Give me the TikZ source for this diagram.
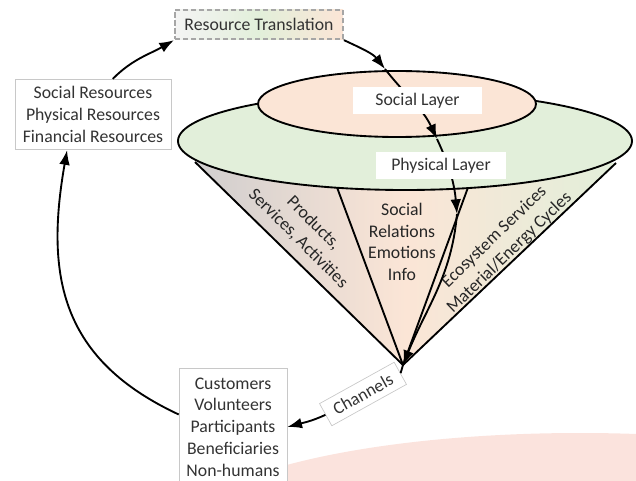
\documentclass[tikz,border=0pt]{standalone}
\usepackage{fontspec}
\setmainfont{Carlito}
\usetikzlibrary{arrows.meta}
\definecolor{layergreen}{HTML}{E2EFDA}
\definecolor{layerpeach}{HTML}{FBE5D6}
\definecolor{conegray}{HTML}{D0CECE}
\definecolor{floorpink}{HTML}{FBE3DD}
\definecolor{boxgray}{HTML}{C8C8C8}
\definecolor{dashgray}{HTML}{A6A6A6}
\definecolor{textgray}{HTML}{333333}
\definecolor{rtleft}{HTML}{F4F4F4}

\begin{document}
\begin{tikzpicture}[x=0.75pt, y=-0.75pt, font=\fontsize{13.3}{16.3}\selectfont,
    box/.style={rectangle, draw=boxgray, line width=0.5pt, fill=white, align=center, text=textgray, inner sep=0pt},
    rtbox/.style={rectangle, draw=dashgray, line width=1.5pt, dash pattern=on 4pt off 2pt, left color=rtleft, right color=layerpeach, middle color=layergreen, text=textgray, inner sep=0pt, minimum width=126pt, minimum height=22pt},
    layerlabel/.style={rectangle, fill=white, inner sep=0pt, minimum width=97pt, minimum height=20pt, text=textgray},
    conetext/.style={align=center, text=black!85},
    flow/.style={line width=1.4pt, -{Latex[length=11pt, width=8pt]}},
    rim/.style={line width=1.4pt}]
    \clip (0,0) rectangle (636,481);
    \fill[floorpink] (580,533) ellipse [x radius=400, y radius=100];

    \coordinate (apex) at (403,365);
    \shade[left color=conegray, right color=layergreen, middle color=layerpeach] (195,162) -- (apex) -- (616,163) -- cycle;
    \draw[rim, line join=round] (195,162) -- (apex) -- (616,163);
    \draw[rim, line join=round] (335,182) -- (apex) -- (470,182);
    \filldraw[rim, fill=layergreen] (405,141) ellipse [x radius=227, y radius=49];
    \filldraw[rim, fill=layerpeach] (397,104) ellipse [x radius=139, y radius=33];

    \node[conetext, rotate=-45] (goods) at (306,231) {Products,\\Services, Activities};
    \node[conetext] (relations) at (402,242) {Social\\Relations\\Emotions\\Info};
    \node[conetext, rotate=44] (ecology) at (502,245) {Ecosystem Services\\Material/Energy Cycles};

    \node[rtbox] (rt) at (259,24.5) {Resource Translation};
    \node[box, minimum width=117pt, minimum height=53pt] (res) at (93,114.5) {Social Resources\\Physical Resources\\Financial Resources};
    \node[box, minimum width=81pt, minimum height=88.5pt] (cust) at (233,427) {Customers\\Volunteers\\Participants\\Beneficiaries\\Non-humans};
    \node[box, rotate=29, minimum width=64pt, minimum height=19pt] (chan) at (363,394) {Channels};

    \coordinate (hit1) at (385,69);
    \coordinate (hit2) at (437,139);
    \coordinate (hit3) at (457,214);
    \draw[flow] (rt.south east) to[out=-25, in=128] (hit1);
    \draw[flow] (hit1) to[out=-52, in=115] (hit2);
    \draw[flow] (hit2) to[out=-65, in=95] (hit3);
    \draw[line width=1.4pt] (apex) -- (chan.east);
    \draw[flow] (hit3) to[out=-95, in=68] (apex);

    \node[layerlabel] (sociallayer) at (417.5,100.5) {Social Layer};
    \node[layerlabel] (physlayer) at (441,165.5) {Physical Layer};

    \draw[flow] (chan.west) to[out=-155, in=15] (cust.east);
    \draw[flow] (cust.167) to[out=155, in=-100, looseness=1.15] (res.234);
    \draw[flow] (res.61) to[out=45, in=-150] (rt.south west);
  \end{tikzpicture}
\end{document}
